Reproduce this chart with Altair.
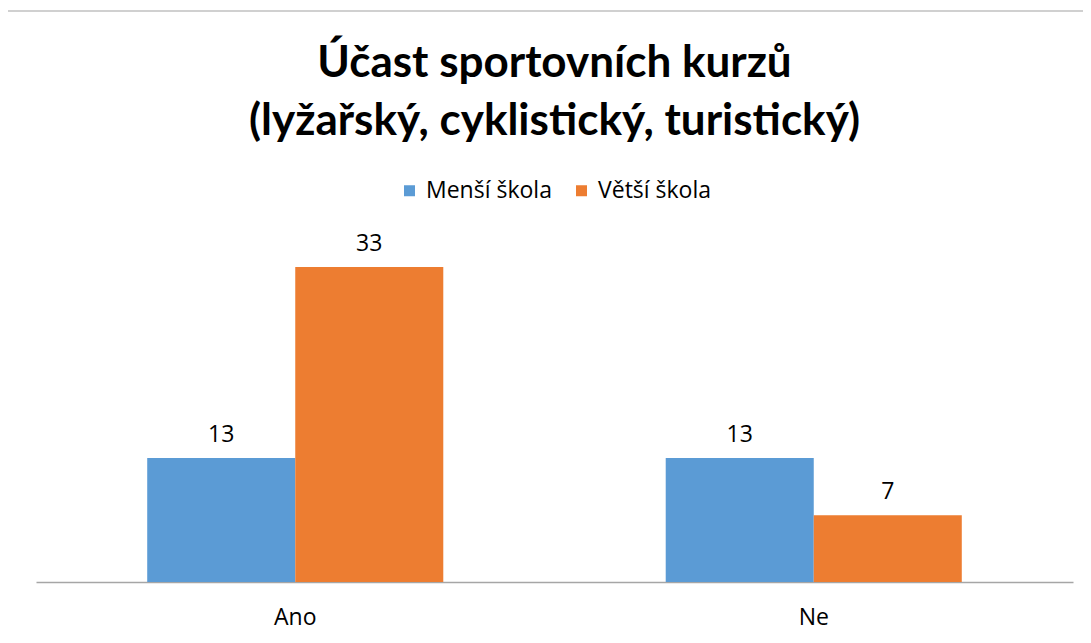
import altair as alt
import pandas as pd

categories = ["Ano", "Ano", "Ne", "Ne"]
series = ["Menší škola", "Větší škola", "Menší škola", "Větší škola"]
values = [13, 33, 13, 7]
series_order = ["Menší škola", "Větší škola"]
colors = ["#5B9BD5", "#ED7D31"]

df = pd.DataFrame({"kategorie": categories, "skola": series, "pocet": values})

FONT = "Lato"
BODY = "Open Sans"

x = alt.X("kategorie:N", title=None,
          scale=alt.Scale(paddingInner=0.429, paddingOuter=0.2145),
          axis=alt.Axis(labelAngle=0, labelFontSize=23, labelFont=BODY,
                        labelColor="#000000", ticks=False, domainColor="#A6A6A6",
                        domainWidth=1.5, labelPadding=24))
y = alt.Y("pocet:Q", title=None, axis=None, scale=alt.Scale(domain=[0, 35]))
xo = alt.XOffset("skola:N", sort=series_order)

bars = alt.Chart(df).mark_bar().encode(
    x=x, y=y, xOffset=xo,
    color=alt.Color("skola:N", sort=series_order,
                    scale=alt.Scale(domain=series_order, range=colors),
                    legend=alt.Legend(title=None, orient="none", direction="horizontal",
                                      legendX=362, legendY=-69, symbolType="square",
                                      symbolSize=121, labelFontSize=23, labelFont=BODY,
                                      labelColor="#000000", columnPadding=18,
                                      labelOffset=5, symbolStrokeWidth=0)),
)

labels = alt.Chart(df).mark_text(dy=-23, fontSize=23, font=BODY, color="#000000").encode(
    x=x, y=y, xOffset=xo, text="pocet:Q"
)

border = alt.Chart(df).mark_rect(fill=None, stroke="#D0D0D0", strokeWidth=1.5).encode(
    x=alt.value(-29), x2=alt.value(1070), y=alt.value(-237), y2=alt.value(420)
)

chart = alt.layer(border, bars, labels).properties(
    width=1037, height=334,
    title=alt.TitleParams(
        text=["Účast sportovních kurzů", "(lyžařský, cyklistický, turistický)"],
        fontSize=44, font=FONT, fontWeight="bold", color="#000000",
        lineHeight=58, anchor="middle", offset=-134,
    ),
    autosize=alt.AutoSizeParams(type="none"),
    padding={"left": 28, "top": 240, "right": 10, "bottom": 60},
).configure_view(stroke=None).configure_axis(grid=False)

chart.save("out.html", embed_options={"renderer": "svg", "actions": False})
